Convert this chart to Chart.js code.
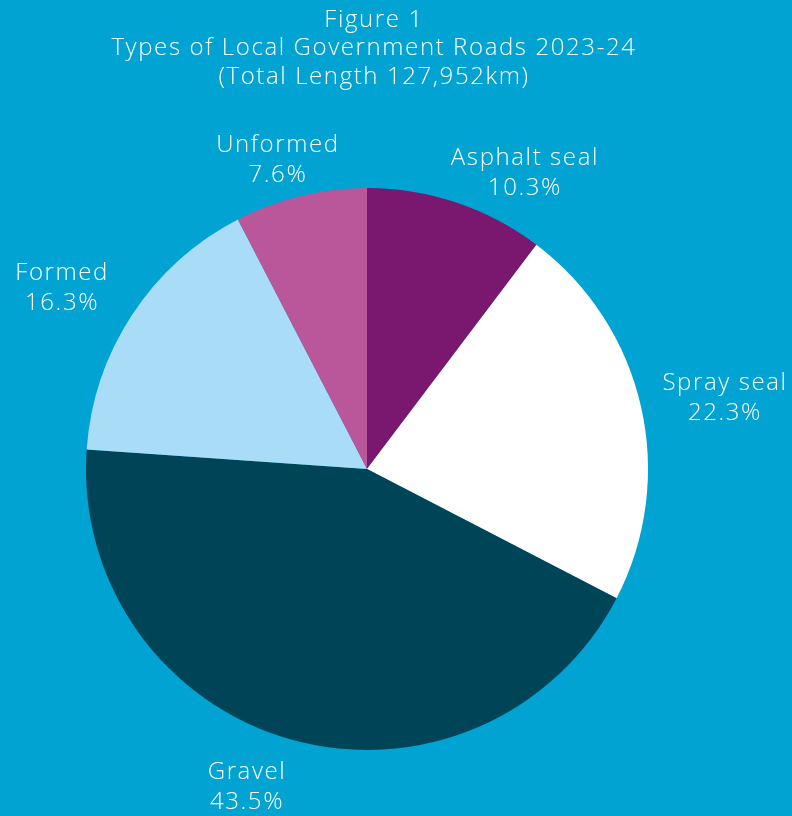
<!DOCTYPE html>
<html>
<head>
<meta charset="utf-8">
<script src="https://cdn.jsdelivr.net/npm/chart.js@4.4.1/dist/chart.umd.min.js"></script>
<style>
  html, body { margin: 0; padding: 0; background: #00a3d1; }
  #wrap { width: 792px; height: 816px; }
</style>
</head>
<body>
<div id="wrap"><canvas id="roadsChart" width="792" height="816"></canvas></div>
<script>
const titleLines = ['Figure 1', 'Types of Local Government Roads 2023-24', '(Total Length 127,952km)'];
const roadTypes = ['Asphalt seal', 'Spray seal', 'Gravel', 'Formed', 'Unformed'];
const sharePct = [10.3, 22.3, 43.5, 16.3, 7.6];
const sliceColors = ['#7a176f', '#ffffff', '#004458', '#a9dcf6', '#b9579a'];

// where each label sits, relative to pie centre, in multiples of the radius
const labelSpots = [
  [0.562, -1.053],
  [1.274, -0.253],
  [-0.427, 1.132],
  [-1.085, -0.644],
  [-0.317, -1.100]
];

const FONT = '300 24px "Open Sans", sans-serif';

const textPlugin = {
  id: 'textPlugin',
  afterDraw(chart) {
    const ctx = chart.ctx;
    ctx.save();
    ctx.fillStyle = '#ffffff';
    ctx.font = FONT;
    ctx.letterSpacing = '1.6px';
    ctx.textAlign = 'center';
    ctx.textBaseline = 'middle';

    // title block
    titleLines.forEach((line, i) => {
      ctx.fillText(line, 374, 20 + i * 28.5);
    });

    // slice labels
    const arc = chart.getDatasetMeta(0).data[0];
    const cx = arc.x, cy = arc.y, r = arc.outerRadius;
    roadTypes.forEach((name, i) => {
      const x = cx + labelSpots[i][0] * r;
      const y = cy + labelSpots[i][1] * r;
      ctx.fillText(name, x, y - 15);
      ctx.fillText(sharePct[i].toFixed(1) + '%', x, y + 15);
    });
    ctx.restore();
  }
};

new Chart(document.getElementById('roadsChart'), {
  type: 'pie',
  data: {
    labels: roadTypes,
    datasets: [{
      data: sharePct,
      backgroundColor: sliceColors,
      borderWidth: 0
    }]
  },
  options: {
    responsive: false,
    animation: false,
    layout: { padding: { left: 86, right: 144, top: 188, bottom: 66 } },
    plugins: {
      legend: { display: false },
      tooltip: { enabled: false }
    }
  },
  plugins: [textPlugin]
});
</script>
</body>
</html>
